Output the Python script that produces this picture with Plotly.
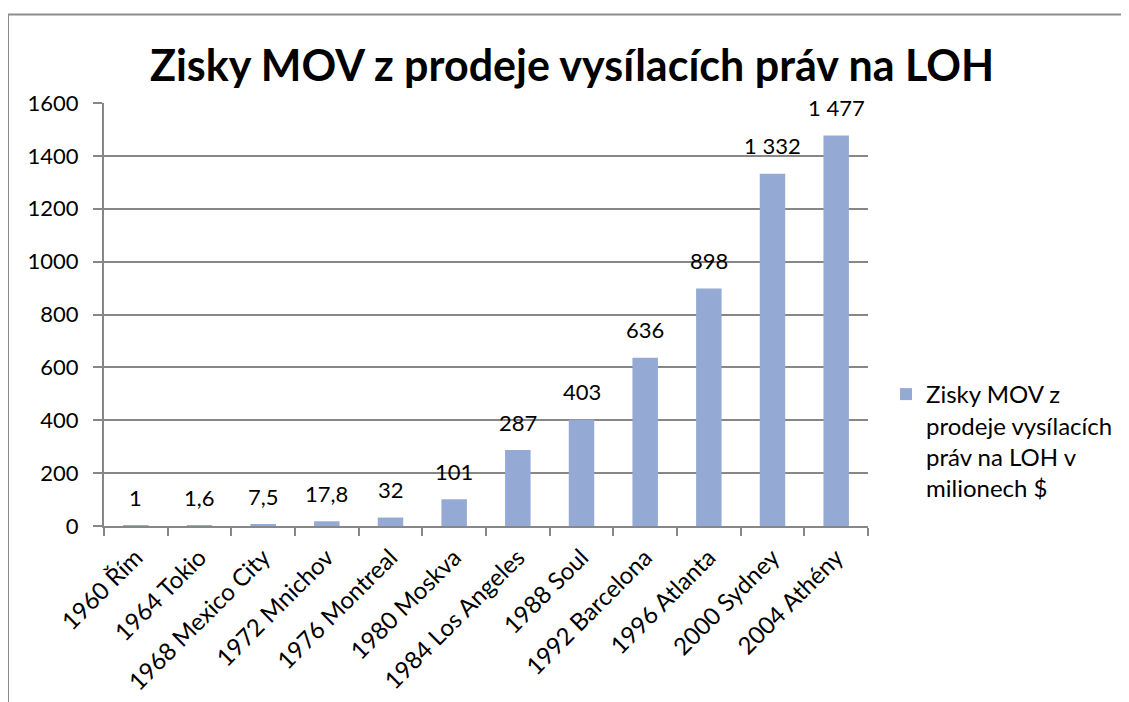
import plotly.graph_objects as go

categories = ["1960 Řím", "1964 Tokio", "1968 Mexico City", "1972 Mnichov", "1976 Montreal",
              "1980 Moskva", "1984 Los Angeles", "1988 Soul", "1992 Barcelona", "1996 Atlanta",
              "2000 Sydney", "2004 Athény"]
values = [1, 1.6, 7.5, 17.8, 32, 101, 287, 403, 636, 898, 1332, 1477]
value_labels = ["1", "1,6", "7,5", "17,8", "32", "101", "287", "403", "636", "898", "1 332", "1 477"]
series_name = "Zisky MOV z<br>prodeje vysílacích<br>práv na LOH v<br>milionech $"
title_text = "Zisky MOV z prodeje vysílacích práv na LOH"
y_ticks = [0, 200, 400, 600, 800, 1000, 1200, 1400, 1600]

FONT = "Lato, Calibri, Carlito, 'Liberation Sans', sans-serif"
GRID = "#878787"

# page has an 8px body margin; figure drawn from (8,8)
OFF = 8
W, H = 1129 - OFF, 702 - OFF
L, T = 104 - OFF, 103 - OFF
R = 1129 - 868
B = 702 - 526
pw, ph = W - L - R, H - T - B

def px(x):  # page x -> paper
    return (x - OFF - L) / pw

def py(y):  # page y -> paper
    return (H - B - (y - OFF)) / ph

fig = go.Figure()
fig.add_trace(go.Bar(
    x=categories, y=values, name=series_name,
    marker=dict(color="#94a9d3", line=dict(width=0)),
    showlegend=True,
))

annotations = [
    dict(x=c, y=v, xref="x", yref="y", text=t, showarrow=False,
         yanchor="middle", xanchor="center", yshift=28,
         font=dict(size=22, family=FONT, color="black"))
    for c, v, t in zip(categories, values, value_labels)
]

fig.update_layout(
    width=W, height=H,
    margin=dict(l=L, r=R, t=T, b=B, autoexpand=False),
    paper_bgcolor="white", plot_bgcolor="white",
    font=dict(family=FONT, size=22, color="black"),
    title=dict(text="<b>" + title_text + "</b>", x=(572 - OFF) / W, xanchor="center",
               y=1 - (66 - OFF) / H, yanchor="middle", xref="container", yref="container",
               font=dict(size=43, family=FONT, color="black")),
    bargap=0.6,
    legend=dict(x=px(886), xanchor="left", y=py(372), yanchor="top",
                valign="top", font=dict(size=24, family=FONT, color="black"),
                bgcolor="rgba(0,0,0,0)", itemwidth=30, tracegroupgap=0),
    showlegend=True,
    annotations=annotations,
    xaxis=dict(type="category", tickangle=-45, showgrid=False, showline=True,
               linecolor=GRID, linewidth=2, ticks="outside", tickson="boundaries",
               ticklen=8, tickcolor=GRID, tickwidth=2, ticklabelstandoff=6,
               tickfont=dict(size=24, family=FONT, color="black")),
    yaxis=dict(range=[0, 1600], tickvals=y_ticks,
               showgrid=True, gridcolor=GRID, gridwidth=1.5, showline=True,
               linecolor=GRID, linewidth=2, ticks="outside", ticklen=9,
               tickcolor=GRID, tickwidth=2, zeroline=False, ticklabelstandoff=10,
               tickfont=dict(size=22, family=FONT, color="black")),
    shapes=[
        dict(type="line", xref="paper", yref="paper", x0=px(8), x1=px(1140),
             y0=py(14.5), y1=py(14.5), line=dict(color="#8c8c8c", width=2)),
        dict(type="line", xref="paper", yref="paper", x0=px(8), x1=px(8),
             y0=py(14.5), y1=py(720), line=dict(color="#8c8c8c", width=2)),
    ],
)

fig.write_html("out.html")
